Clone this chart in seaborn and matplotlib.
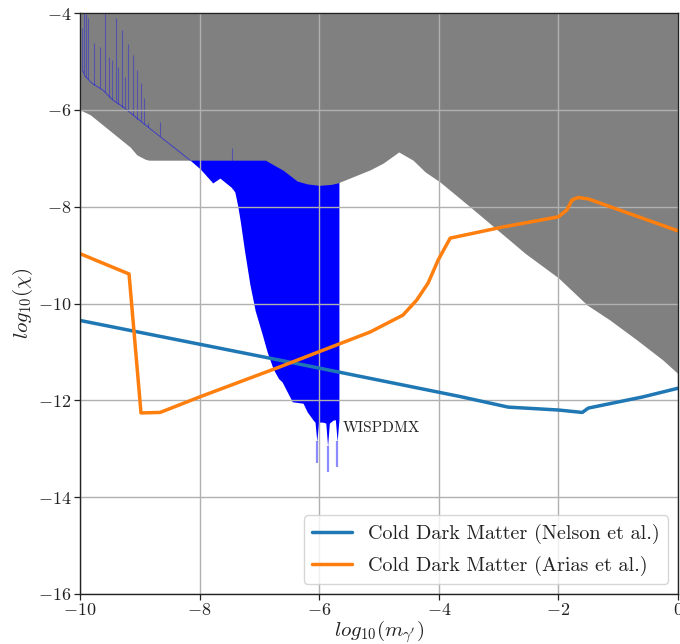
import numpy as np
import pandas as pd
import matplotlib
matplotlib.use("Agg")
import matplotlib.pyplot as plt
import seaborn as sns

# ---------------- data ----------------
gray_x = [-10.0, -9.83, -9.45, -9.16, -9.05, -8.91, -8.85, -6.90, -6.60, -6.37, -6.20,
          -6.00, -5.80, -5.69, -5.15, -4.93, -4.67, -4.43, -4.23, -3.98, -3.48, -2.76,
          -2.56, -2.00, -1.52, -1.14, -0.69, -0.25, 0.0]
gray_y = [-6.00, -6.10, -6.48, -6.77, -6.93, -7.02, -7.04, -7.04, -7.25, -7.47, -7.53,
          -7.56, -7.54, -7.51, -7.24, -7.10, -6.87, -7.04, -7.28, -7.49, -8.00, -8.75,
          -8.96, -9.47, -10.03, -10.34, -10.75, -11.17, -11.45]

wisp_x = [-9.95, -9.92, -9.80, -9.62, -9.45, -9.28, -9.11, -8.95, -8.16, -7.99, -7.78,
          -7.66, -7.46, -7.41, -7.36, -7.32, -7.25, -7.16, -7.07, -6.95, -6.87, -6.77,
          -6.68, -6.62, -6.45, -6.27, -6.20, -6.10, -6.07, -6.04, -6.01, -5.94, -5.89,
          -5.86, -5.83, -5.77, -5.73, -5.70, -5.67]
wisp_y = [-5.20, -5.30, -5.45, -5.59, -5.80, -5.94, -6.11, -6.27, -7.04, -7.22, -7.51,
          -7.41, -7.61, -7.70, -8.00, -8.30, -8.90, -9.60, -10.15, -10.65, -11.00, -11.35,
          -11.55, -11.62, -12.03, -12.06, -12.24, -12.41, -12.45, -12.85, -12.45, -12.45,
          -12.47, -12.95, -12.47, -12.41, -12.40, -12.85, -12.40]

spike_x = [-9.97, -9.94, -9.90, -9.87, -9.76, -9.67, -9.59, -9.51, -9.47, -9.40, -9.36,
           -9.29, -9.25, -9.19, -9.11, -9.04, -8.98, -8.93, -8.86, -8.67, -7.45]
spike_y = [-4.30, -4.00, -4.00, -4.10, -4.62, -4.70, -4.00, -4.91, -4.97, -4.11, -5.11,
           -4.35, -5.32, -4.63, -4.87, -5.18, -5.45, -5.76, -6.27, -6.25, -6.79]

dip_x = [-6.04, -5.86, -5.70]
dip_y = [-13.30, -13.48, -13.38]

nelson_x = [-10.0, -6.66, -3.65, -2.84, -2.00, -1.60, -1.50, -0.59, 0.0]
nelson_y = [-10.35, -11.17, -11.92, -12.14, -12.20, -12.25, -12.16, -11.93, -11.75]

arias_x = [-10.0, -9.67, -9.18, -8.98, -8.66, -8.00, -6.66, -5.15, -4.82, -4.60, -4.37,
           -4.18, -4.01, -3.81, -2.93, -2.00, -1.86, -1.77, -1.67, -1.50, 0.0]
arias_y = [-8.97, -9.14, -9.39, -12.26, -12.25, -11.93, -11.31, -10.59, -10.38, -10.24,
           -9.93, -9.58, -9.10, -8.65, -8.42, -8.21, -8.07, -7.86, -7.81, -7.84, -8.50]

label_nelson = "Cold Dark Matter (Nelson et al.)"
label_arias = "Cold Dark Matter (Arias et al.)"
x_ticks = [-10, -8, -6, -4, -2, 0]
y_ticks = [-16, -14, -12, -10, -8, -6, -4]

# ---------------- style ----------------
sns.set_theme(style="whitegrid")
plt.rcParams.update({
    "font.family": ["cmr10", "DejaVu Serif"],
    "mathtext.fontset": "cm",
    "axes.formatter.use_mathtext": True,
    "axes.unicode_minus": True,
})

fig = plt.figure(figsize=(6.8, 6.44), dpi=100)
ax = fig.add_axes([80 / 680, 50 / 644, 598 / 680, 581 / 644])
ax.set_facecolor("white")

# WISPDMX exclusion (blue), under the gray region
ax.fill_between(wisp_x, wisp_y, -4, color="blue", linewidth=0, zorder=0.8)
# gray excluded region
ax.fill_between(gray_x, gray_y, -4, color="#808080", linewidth=0, zorder=0.9)
# spiky remnants of the WISPDMX curve drawn over the gray
left = [i for i, v in enumerate(wisp_x) if v <= -8.16]
ax.plot([wisp_x[i] for i in left], [wisp_y[i] for i in left], color="blue",
        lw=0.7, alpha=0.5, zorder=1.1)
spike_base = np.interp(spike_x, wisp_x, wisp_y)
ax.vlines(spike_x, spike_base, spike_y, color="blue", lw=0.8, alpha=0.35, zorder=1.1)
dip_base = np.interp(dip_x, wisp_x, wisp_y)
ax.vlines(dip_x, dip_base, dip_y, color="blue", lw=1.6, alpha=0.45, zorder=1.1)

# dark-matter lines
df = pd.concat([
    pd.DataFrame({"x": nelson_x, "y": nelson_y, "series": label_nelson}),
    pd.DataFrame({"x": arias_x, "y": arias_y, "series": label_arias}),
])
sns.lineplot(data=df, x="x", y="y", hue="series", palette=["#1f77b4", "#ff7f0e"],
             linewidth=2.5, sort=False, estimator=None, ax=ax, zorder=2)

ax.text(-5.6, -12.57, "WISPDMX", fontsize=11, ha="left", va="center", color="#222222",
        zorder=3)

ax.set_xlim(-10, 0)
ax.set_ylim(-16, -4)
ax.set_xticks(x_ticks)
ax.set_yticks(y_ticks)
ax.set_axisbelow("line")
ax.grid(True, color="#b0b0b0", lw=1.0)
for s in ax.spines.values():
    s.set_color("#222222")
    s.set_linewidth(1.0)
ax.tick_params(axis="both", which="major", labelsize=13, length=4, width=0.9,
               color="#222222", bottom=True, left=True, labelcolor="#222222", pad=2)
ax.set_xlabel(r"$log_{10}(m_{\gamma^\prime})$", fontsize=15, color="#222222", labelpad=0)
ax.set_ylabel(r"$log_{10}(\chi)$", fontsize=15, color="#222222", labelpad=2)

sns.move_legend(ax, "lower right", title=None, fontsize=14.5, frameon=True,
                fancybox=True, edgecolor="0.8", framealpha=0.8, labelspacing=0.6)
leg = ax.get_legend()
for line in leg.get_lines():
    line.set_linewidth(2.5)
for t in leg.get_texts():
    t.set_color("#222222")
leg.set_zorder(5)

fig.savefig("out.png", dpi=100)
